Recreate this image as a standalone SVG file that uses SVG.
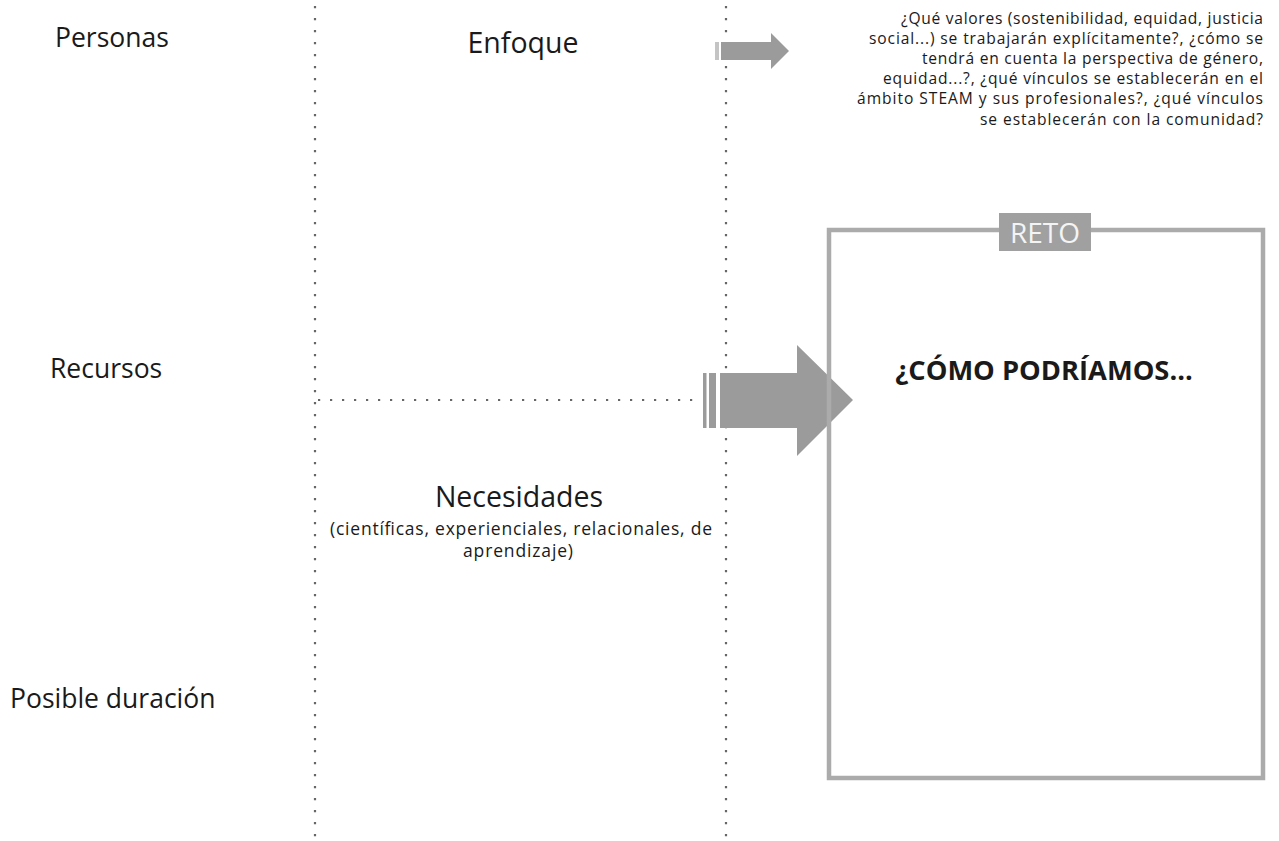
<svg xmlns="http://www.w3.org/2000/svg" width="1279" height="841" viewBox="0 0 1279 841">
<style>
text{font-family:"Open Sans","Noto Sans",sans-serif;fill:#1a1a1a}
.lab{font-size:26.5px}
.big{font-size:28.5px}
.q{font-size:15.6px;text-anchor:end}
.dot{stroke:#666;stroke-width:2.2;stroke-dasharray:2.2 9.8;fill:none}
.arr{fill:#9b9b9b}
</style>
<rect width="1279" height="841" fill="#fff"/>
<g id="connectors">
<line class="dot" x1="315" y1="6" x2="315" y2="841"/>
<line class="dot" x1="726" y1="6" x2="726" y2="841"/>
<line class="dot" x1="318" y1="400" x2="700" y2="400"/>
</g>
<g id="arrow-small">
<rect x="715" y="42" width="4" height="18" fill="#c4c4c4"/>
<polygon class="arr" points="721,42 771,42 771,33 789,51 771,69 771,60 721,60"/>
</g>
<g id="arrow-big">
<rect x="703" y="373" width="3.5" height="55" class="arr"/>
<rect x="709" y="373" width="7" height="55" class="arr"/>
<polygon class="arr" points="720,373 797,373 797,345 853,400 797,456 797,428 720,428"/>
</g>
<g id="reto">
<rect x="829" y="230" width="434" height="548" fill="none" stroke="#ababab" stroke-width="4.5"/>
<rect x="999" y="213" width="92" height="38" fill="#a0a0a0"/>
<text x="1045" y="243" font-size="28" text-anchor="middle" style="fill:#f4f4f4">RETO</text>
<text x="1044" y="380" font-size="27.3" font-weight="bold" text-anchor="middle">¿CÓMO PODRÍAMOS...</text>
</g>
<g id="personas"><text class="lab" x="55" y="47">Personas</text></g>
<g id="recursos"><text class="lab" x="50" y="378">Recursos</text></g>
<g id="duracion"><text class="lab" x="10" y="708">Posible duración</text></g>
<g id="enfoque"><text class="big" x="523" y="53" text-anchor="middle">Enfoque</text></g>
<g id="necesidades">
<text class="big" x="519" y="507" text-anchor="middle">Necesidades</text>
<text x="521" y="535" font-size="17.5" text-anchor="middle" textLength="382" lengthAdjust="spacing">(científicas, experienciales, relacionales, de</text>
<text x="518" y="557" font-size="17.5" text-anchor="middle" textLength="110" lengthAdjust="spacing">aprendizaje)</text>
</g>
<g id="preguntas">
<text class="q" x="1263" y="24" textLength="362" lengthAdjust="spacing">¿Qué valores (sostenibilidad, equidad, justicia</text>
<text class="q" x="1263" y="44" textLength="394" lengthAdjust="spacing">social...) se trabajarán explícitamente?, ¿cómo se</text>
<text class="q" x="1263" y="64" textLength="341" lengthAdjust="spacing">tendrá en cuenta la perspectiva de género,</text>
<text class="q" x="1263" y="84" textLength="380" lengthAdjust="spacing">equidad...?, ¿qué vínculos se establecerán en el</text>
<text class="q" x="1263" y="104" textLength="406" lengthAdjust="spacing">ámbito STEAM y sus profesionales?, ¿qué vínculos</text>
<text class="q" x="1263" y="125" textLength="283" lengthAdjust="spacing">se establecerán con la comunidad?</text>
</g>
</svg>
